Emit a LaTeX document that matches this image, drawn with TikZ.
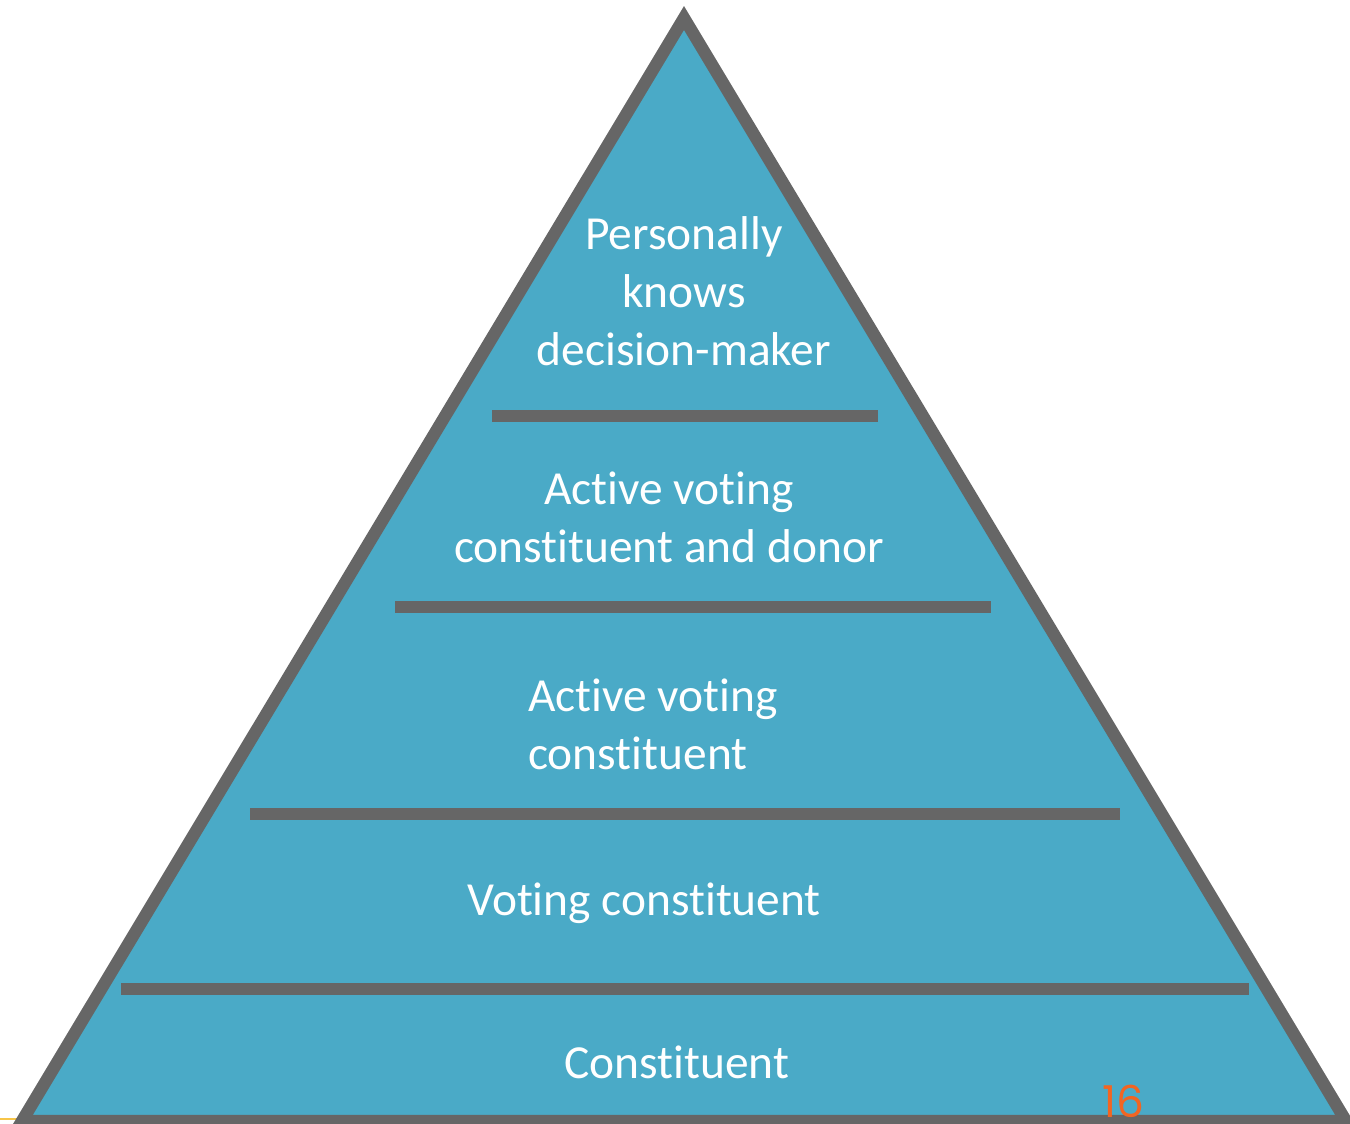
\documentclass[tikz,border=0pt]{standalone}
\usepackage{fontspec}
\setmainfont[RawFeature={-liga;-clig;-calt;-dlig}]{Carlito}
\newfontfamily\pagefont{Poppins}

\definecolor{pyrfill}{HTML}{4AAAC7}
\definecolor{pyrgray}{HTML}{666666}
\definecolor{pagenum}{HTML}{F26522}
\definecolor{footline}{HTML}{F7C548}

\begin{document}
\begin{tikzpicture}
  [x=0.02cm,y=-0.02cm,
   every node/.style={text=white,align=center,font=\fontsize{27}{33}\selectfont},
   tier/.style={pyrgray,line width=6.8pt}]
  \clip (0,0) rectangle (1350,1124);
  \draw[footline,line width=0.8pt] (0,1119) -- (40,1119);
  % the pyramid
  \coordinate (top) at (684,18);
  \coordinate (bl) at (22,1121);
  \coordinate (br) at (1346,1121);
  \filldraw[fill=pyrfill,draw=pyrgray,line width=7pt,line join=miter] (top) -- (bl) -- (br) -- cycle;
  % separators between the levels
  \foreach \y/\xa/\xb in {416/492/878,607/395/991,814/250/1120,989/121/1249}
    \draw[tier] (\xa,\y) -- (\xb,\y);
  % level labels
  \node (l1) at (684,291) {Personally\\knows\\decision-maker};
  \node (l2) at (669,517) {Active voting\\constituent and donor};
  \node[anchor=west,align=left] (l3) at (522,724) {Active voting\\constituent};
  \node (l4) at (644,903) {Voting constituent};
  \node (l5) at (677,1062) {Constituent};
  \node[text=pagenum,font=\pagefont\fontsize{25}{28}\selectfont,anchor=base,inner sep=0pt] (pg) at (1123,1117) {16};
\end{tikzpicture}
\end{document}
